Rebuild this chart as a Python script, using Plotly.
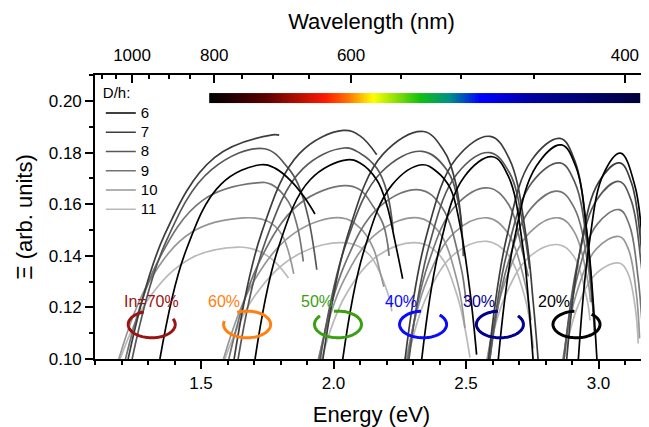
import numpy as np
import plotly.graph_objects as go

# ---------------- data ----------------
DH = [6, 7, 8, 9, 10, 11]
GRAYS = ['#000000', '#3d3d3d', '#575757', '#737373', '#969696', '#b9b9b9']

IN_LABELS = ['In=70%', '60%', '50%', '40%', '30%', '20%']
IN_COLORS = ['#9b1212', '#ff8010', '#3aa012', '#0a0aff', '#000090', '#000000']

WL_MAJOR = [1000, 800, 600, 400]
WL_MINOR = [1100, 1050, 950, 900, 850, 750, 700, 650, 550, 500, 450]

# energy (eV) / Xi values of each D/h curve (6,7,8,9,10,11) per In content
IN70_E = [
    [1.345, 1.441, 1.576, 1.725, 1.779, 1.842, 1.892, 1.930],
    [1.225, 1.361, 1.552, 1.770, 1.795],
    [1.240, 1.365, 1.540, 1.740, 1.829, 1.867, 1.905, 1.937],
    [1.215, 1.336, 1.506, 1.710, 1.767, 1.829, 1.862, 1.886],
    [1.190, 1.305, 1.466, 1.660, 1.754, 1.805, 1.850],
    [1.195, 1.306, 1.462, 1.640, 1.704, 1.770, 1.830],
]
IN70_V = [
    [0.100, 0.1414, 0.1678, 0.1753, 0.1740, 0.1688, 0.1624, 0.1562],
    [0.100, 0.1478, 0.1782, 0.1869, 0.1868],
    [0.100, 0.1448, 0.1734, 0.1815, 0.1740, 0.1676, 0.1547, 0.1346],
    [0.100, 0.1376, 0.1615, 0.1683, 0.1676, 0.1611, 0.1520, 0.1378],
    [0.100, 0.1301, 0.1492, 0.1547, 0.1533, 0.1482, 0.1330],
    [0.100, 0.1239, 0.1391, 0.1434, 0.1424, 0.1385, 0.1314],
]
IN60_E = [
    [1.704, 1.790, 1.912, 2.050, 2.100, 2.163, 2.201, 2.232, 2.261],
    [1.625, 1.728, 1.872, 2.037, 2.100, 2.163],
    [1.640, 1.741, 1.883, 2.040, 2.100, 2.163, 2.201, 2.225],
    [1.605, 1.716, 1.872, 2.040, 2.100, 2.150, 2.188, 2.210],
    [1.585, 1.699, 1.858, 2.030, 2.100, 2.150, 2.175, 2.190],
    [1.590, 1.705, 1.866, 2.050, 2.134, 2.207, 2.220],
]
IN60_V = [
    [0.100, 0.1425, 0.1695, 0.1772, 0.1760, 0.1695, 0.1598, 0.1456, 0.1311],
    [0.100, 0.1487, 0.1797, 0.1886, 0.1865, 0.1792],
    [0.100, 0.1450, 0.1736, 0.1818, 0.1798, 0.1740, 0.1650, 0.1500],
    [0.100, 0.1368, 0.1602, 0.1672, 0.1656, 0.1591, 0.1521, 0.1400],
    [0.100, 0.1301, 0.1492, 0.1547, 0.1508, 0.1430, 0.1340, 0.1280],
    [0.100, 0.1248, 0.1405, 0.1450, 0.1405, 0.1248, 0.1185],
]
IN50_E = [
    [2.035, 2.113, 2.221, 2.335, 2.389, 2.440, 2.477, 2.515, 2.540],
    [1.960, 2.055, 2.187, 2.339, 2.414, 2.458, 2.484],
    [1.950, 2.046, 2.181, 2.335, 2.427, 2.471, 2.490],
    [1.945, 2.040, 2.173, 2.325, 2.408, 2.480, 2.500],
    [1.943, 2.037, 2.169, 2.320, 2.398, 2.467, 2.496],
    [1.955, 2.046, 2.174, 2.320, 2.398, 2.466, 2.515],
]
IN50_V = [
    [0.100, 0.1413, 0.1675, 0.1753, 0.1727, 0.1663, 0.1521, 0.1262, 0.1017],
    [0.100, 0.1485, 0.1794, 0.1882, 0.1811, 0.1695, 0.1514],
    [0.100, 0.1443, 0.1725, 0.1805, 0.1734, 0.1605, 0.1398],
    [0.100, 0.1361, 0.1590, 0.1656, 0.1590, 0.1361, 0.1220],
    [0.100, 0.1301, 0.1492, 0.1547, 0.1492, 0.1301, 0.1120],
    [0.100, 0.1248, 0.1405, 0.1450, 0.1405, 0.1248, 0.1005],
]
IN40_E = [
    [2.333, 2.400, 2.493, 2.600, 2.661, 2.715, 2.738, 2.753],
    [2.270, 2.350, 2.463, 2.591, 2.663, 2.727, 2.754, 2.772],
    [2.285, 2.361, 2.468, 2.590, 2.665, 2.718, 2.740],
    [2.280, 2.356, 2.463, 2.585, 2.662, 2.712, 2.735],
    [2.275, 2.351, 2.458, 2.580, 2.655, 2.721, 2.745],
    [2.280, 2.355, 2.460, 2.580, 2.654, 2.719, 2.755],
]
IN40_V = [
    [0.100, 0.1431, 0.1706, 0.1784, 0.1706, 0.1431, 0.1196, 0.100],
    [0.100, 0.1475, 0.1777, 0.1863, 0.1777, 0.1475, 0.1216, 0.100],
    [0.100, 0.1440, 0.1720, 0.1800, 0.1720, 0.1500, 0.1350],
    [0.100, 0.1365, 0.1597, 0.1663, 0.1597, 0.1420, 0.1320],
    [0.100, 0.1301, 0.1492, 0.1547, 0.1492, 0.1301, 0.1150],
    [0.100, 0.1251, 0.1410, 0.1456, 0.1410, 0.1251, 0.1040],
]
IN30_E = [
    [2.622, 2.681, 2.765, 2.860, 2.914, 2.960, 2.981, 2.994],
    [2.585, 2.653, 2.747, 2.855, 2.910, 2.958, 2.978, 2.985],
    [2.590, 2.656, 2.749, 2.855, 2.911, 2.960, 2.980],
    [2.590, 2.655, 2.746, 2.850, 2.909, 2.961, 2.975],
    [2.580, 2.648, 2.742, 2.850, 2.909, 2.960, 2.970],
    [2.580, 2.648, 2.742, 2.850, 2.906, 2.954, 2.968],
]
IN30_V = [
    [0.100, 0.1457, 0.1747, 0.1830, 0.1747, 0.1457, 0.1208, 0.100],
    [0.100, 0.1470, 0.1770, 0.1855, 0.1770, 0.1470, 0.1214, 0.1100],
    [0.100, 0.1418, 0.1684, 0.1760, 0.1684, 0.1418, 0.1180],
    [0.100, 0.1358, 0.1585, 0.1650, 0.1585, 0.1358, 0.1220],
    [0.100, 0.1301, 0.1492, 0.1547, 0.1492, 0.1301, 0.1220],
    [0.100, 0.1244, 0.1399, 0.1443, 0.1399, 0.1244, 0.1150],
]
IN20_E = [
    [2.924, 2.964, 3.019, 3.083, 3.138, 3.169, 3.188, 3.198],
    [2.880, 2.930, 3.000, 3.080, 3.124, 3.163, 3.179, 3.190],
    [2.870, 2.922, 2.995, 3.078, 3.122, 3.160, 3.177, 3.188],
    [2.868, 2.920, 2.994, 3.078, 3.116, 3.149, 3.164, 3.173],
    [2.866, 2.919, 2.993, 3.078, 3.112, 3.142, 3.155],
    [2.870, 2.922, 2.995, 3.078, 3.110, 3.138, 3.150],
]
IN20_V = [
    [0.100, 0.1439, 0.1718, 0.1798, 0.1669, 0.1411, 0.1152, 0.100],
    [0.100, 0.1418, 0.1684, 0.1760, 0.1684, 0.1418, 0.1190, 0.100],
    [0.100, 0.1378, 0.1619, 0.1688, 0.1619, 0.1378, 0.1172, 0.100],
    [0.100, 0.1318, 0.1521, 0.1579, 0.1521, 0.1318, 0.1145, 0.100],
    [0.100, 0.1261, 0.1428, 0.1475, 0.1428, 0.1261, 0.1080],
    [0.100, 0.1205, 0.1335, 0.1372, 0.1335, 0.1205, 0.1060],
]

GROUPS_E = [IN70_E, IN60_E, IN50_E, IN40_E, IN30_E, IN20_E]
GROUPS_V = [IN70_V, IN60_V, IN50_V, IN40_V, IN30_V, IN20_V]

# ---------------- layout constants ----------------
XR = [1.1, 3.1868]
YR = [0.1, 0.2101]
FONT = 'Liberation Sans, Arial, sans-serif'
HC = 1239.84  # eV*nm

RING_CX = [1.314, 1.674, 2.017, 2.338, 2.628, 2.917]
RING_GAP = [(25, 110), (115, 165), (100, 140), (45, 95), (40, 95), (50, 95)]
RING_CY, RING_RX, RING_RY = 0.1134, 0.0887, 0.00516
LABEL_X = [1.315, 1.587, 1.938, 2.255, 2.549, 2.832]
LABEL_Y = 0.1222

BAR_X = [1.531, 3.157]
BAR_Y = [0.1992, 0.2031]
BAR_SCALE = [[0.0, '#000000'], [0.13, '#5a0000'], [0.27, '#ff1a00'],
             [0.32, '#ff7000'], [0.38, '#ffff00'], [0.49, '#10c010'],
             [0.56, '#008c8c'], [0.63, '#0000ff'], [0.75, '#0000a0'],
             [1.0, '#00003c']]

fig = go.Figure()

# spectrum bar
n = 300
edges = np.linspace(BAR_X[0], BAR_X[1], n + 1)
fig.add_trace(go.Heatmap(x=edges, y=BAR_Y, z=[list(np.linspace(0, 1, n))],
                         colorscale=BAR_SCALE, showscale=False,
                         hoverinfo='skip', zmin=0, zmax=1))

# curves: light ones first so black ends on top
for k in reversed(range(len(DH))):
    for g in range(len(GROUPS_E)):
        fig.add_trace(go.Scatter(
            x=GROUPS_E[g][k], y=GROUPS_V[g][k], mode='lines',
            line=dict(color=GRAYS[k], width=1.7, shape='spline', smoothing=1.1),
            name=f'<span style="font-size:15px">{DH[k]}</span>',
            legendgroup=str(DH[k]), legendrank=DH[k],
            showlegend=(g == 0), hoverinfo='skip'))

# invisible trace to anchor the top (wavelength) axis
fig.add_trace(go.Scatter(x=XR, y=[None, None], xaxis='x2', yaxis='y',
                         mode='lines', showlegend=False, hoverinfo='skip'))

# rings and labels
shapes = []
annotations = []
for i in range(len(IN_LABELS)):
    g0, g1 = RING_GAP[i]
    angs = np.radians(np.linspace(g1, g0 + 360, 90))
    pts = [f"{RING_CX[i] + RING_RX * np.cos(a):.5f},{RING_CY + RING_RY * np.sin(a):.6f}" for a in angs]
    shapes.append(dict(type='path', xref='x', yref='y', path='M' + ' L'.join(pts),
                       line=dict(color=IN_COLORS[i], width=3)))
    annotations.append(dict(x=LABEL_X[i], y=LABEL_Y, xref='x', yref='y', text=IN_LABELS[i],
                            showarrow=False, font=dict(family=FONT, size=16, color=IN_COLORS[i])))

tick_font = dict(family=FONT, size=17, color='black')
title_font = dict(family=FONT, size=22, color='black')

# the page body adds an 8 px offset, so the figure is sized to fit the window
fig.update_layout(
    width=641, height=419,
    margin=dict(l=87, r=1, t=67, b=68, autoexpand=False),
    paper_bgcolor='white', plot_bgcolor='white',
    shapes=shapes, annotations=annotations,
    showlegend=True,
    legend=dict(x=0.0105, y=0.975, xanchor='left', yanchor='top',
                bgcolor='rgba(0,0,0,0)', borderwidth=0,
                font=dict(family=FONT, size=12.5, color='black'),
                title=dict(text='<span style="font-size:15px">D/h:</span>',
                           font=dict(family=FONT, size=12.5, color='black')),
                traceorder='normal', itemwidth=30),
    xaxis=dict(range=XR, automargin=False, showline=True, linecolor='black', linewidth=1.6,
               ticks='outside', ticklen=8, tickwidth=1.5, tickcolor='black',
               tick0=1.5, dtick=0.5, tickformat='.1f', tickfont=tick_font,
               minor=dict(ticks='outside', ticklen=4, tickwidth=1.5, dtick=0.1, tick0=1.1,
                          tickcolor='black'),
               showgrid=False, zeroline=False,
               title=dict(text='Energy (eV)', font=title_font, standoff=15)),
    xaxis2=dict(range=XR, automargin=False, overlaying='x', side='top', showline=True,
                linecolor='black',
                linewidth=1.6, ticks='inside', ticklen=8, tickwidth=1.5, tickcolor='black',
                tickmode='array', tickvals=[HC / w for w in WL_MAJOR],
                ticktext=[str(w) for w in WL_MAJOR], tickfont=tick_font,
                ticklabelstandoff=5,
                minor=dict(ticks='inside', ticklen=4, tickwidth=1.5, tickcolor='black',
                           tickvals=[HC / w for w in WL_MINOR]),
                showgrid=False, zeroline=False,
                title=dict(text='Wavelength (nm)', font=title_font, standoff=11)),
    yaxis=dict(range=YR, automargin=False, showline=True, linecolor='black', linewidth=1.6,
               ticks='outside', ticklen=8, tickwidth=1.5, tickcolor='black',
               tick0=0.10, dtick=0.02, tickformat='.2f', tickfont=tick_font,
               minor=dict(ticks='outside', ticklen=4, tickwidth=1.5, dtick=0.01, tick0=0.1,
                          tickcolor='black'),
               showgrid=False, zeroline=False,
               title=dict(text='Ξ (arb. units)', font=title_font, standoff=10)),
)

fig.write_html('out.html')
